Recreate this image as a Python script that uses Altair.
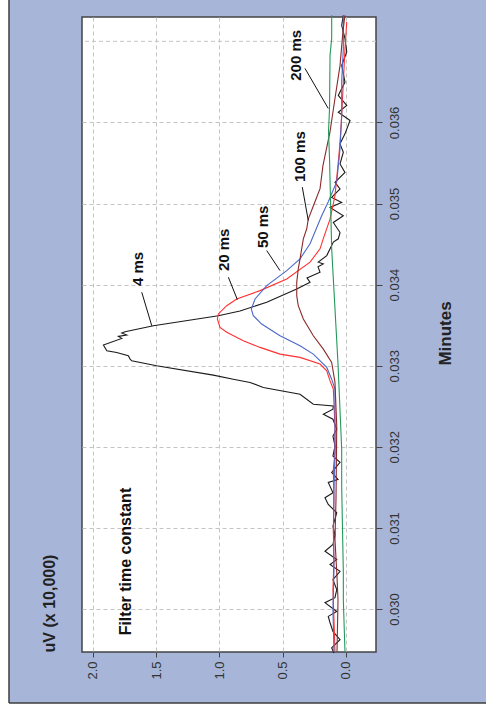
import altair as alt
import pandas as pd

# ---------------- data ----------------
# 4 ms (black)
t_4ms = [0.029456, 0.029522, 0.029621, 0.029723, 0.029831, 0.029909, 0.029970, 0.030078,
         0.030140, 0.030239, 0.030363, 0.030465, 0.030548, 0.030609, 0.030712, 0.030795,
         0.030918, 0.031021, 0.031187, 0.031289, 0.031372, 0.031434, 0.031561, 0.031598,
         0.031685, 0.031808, 0.031886, 0.032010, 0.032133, 0.032216, 0.032340, 0.032402,
         0.032464, 0.032504, 0.032525, 0.032649, 0.032732, 0.032794, 0.032834, 0.032884,
         0.032999, 0.033061, 0.033082, 0.033122, 0.033164, 0.033184, 0.033255, 0.033337,
         0.033362, 0.033378, 0.033403, 0.033419, 0.033493, 0.033617, 0.033675, 0.033782,
         0.033947, 0.034030, 0.034083, 0.034153, 0.034219, 0.034256, 0.034277, 0.034358,
         0.034524, 0.034565, 0.034643, 0.034766, 0.034849, 0.034952, 0.035014, 0.035075,
         0.035179, 0.035261, 0.035384, 0.035488, 0.035632, 0.035736, 0.035859, 0.036024,
         0.036126, 0.036209, 0.036333, 0.036497, 0.036703, 0.036868, 0.037033, 0.037198,
         0.037321]
v_4ms = [0.095, 0.113, 0.047, 0.103, 0.126, 0.140, 0.073, 0.166,
         0.087, 0.073, 0.103, 0.047, 0.126, 0.073, 0.166, 0.103,
         0.087, 0.103, 0.073, 0.140, 0.166, 0.103, 0.140, 0.063,
         0.113, 0.047, 0.103, 0.087, 0.103, 0.073, 0.103, 0.179,
         0.103, 0.100, 0.258, 0.363, 0.653, 0.758, 0.890, 1.048,
         1.496, 1.692, 1.705, 1.719, 1.811, 1.889, 1.916, 1.771,
         1.798, 1.732, 1.771, 1.745, 1.521, 1.008, 0.837, 0.626,
         0.389, 0.284, 0.308, 0.205, 0.221, 0.179, 0.219, 0.152,
         0.100, 0.061, 0.047, 0.100, 0.021, 0.126, 0.034, 0.113,
         0.047, 0.087, 0.008, 0.047, 0.021, 0.047, 0.008, -0.032,
         0.061, -0.006, 0.061, 0.008, 0.034, -0.006, 0.008, 0.034,
         0.021]

# 20 ms (red)
t_20ms = [0.029472, 0.029868, 0.030239, 0.030609, 0.030980, 0.031351, 0.031722, 0.031928,
          0.032257, 0.032711, 0.032813, 0.032937, 0.033020, 0.033103, 0.033143, 0.033226,
          0.033308, 0.033412, 0.033473, 0.033576, 0.033638, 0.033740, 0.033823, 0.033926,
          0.034070, 0.034277, 0.034441, 0.034565, 0.034808, 0.035096, 0.035508, 0.035755,
          0.036085, 0.036497, 0.036910, 0.037238]
v_20ms = [0.087, 0.095, 0.103, 0.095, 0.100, 0.095, 0.100, 0.087,
          0.087, 0.100, 0.126, 0.152, 0.205, 0.363, 0.521, 0.679,
          0.811, 0.942, 0.995, 1.016, 1.008, 0.942, 0.863, 0.679,
          0.468, 0.284, 0.205, 0.180, 0.126, 0.087, 0.061, 0.047,
          0.034, 0.021, 0.008, -0.006]

# 50 ms (blue)
t_50ms = [0.029472, 0.029991, 0.030486, 0.030980, 0.031475, 0.031928, 0.032711, 0.032834,
          0.032979, 0.033143, 0.033246, 0.033370, 0.033514, 0.033617, 0.033700, 0.033823,
          0.033988, 0.034173, 0.034318, 0.034503, 0.034849, 0.035022, 0.035269, 0.035677,
          0.036085, 0.036497, 0.036910, 0.037321]
v_50ms = [0.095, 0.103, 0.095, 0.099, 0.095, 0.087, 0.087, 0.113,
          0.152, 0.258, 0.363, 0.521, 0.666, 0.732, 0.748, 0.718,
          0.626, 0.468, 0.363, 0.284, 0.192, 0.140, 0.073, 0.047,
          0.034, 0.034, 0.021, 0.021]

# 100 ms (brown)
t_100ms = [0.029472, 0.030115, 0.030399, 0.030857, 0.031351, 0.032257, 0.032794, 0.033041,
           0.033205, 0.033370, 0.033576, 0.033740, 0.033864, 0.034030, 0.034194, 0.034318,
           0.034565, 0.034689, 0.034808, 0.035022, 0.035183, 0.035467, 0.035887, 0.036295,
           0.036703, 0.037123, 0.037321]
v_100ms = [0.071, 0.063, 0.071, 0.087, 0.079, 0.073, 0.087, 0.113,
           0.179, 0.258, 0.337, 0.377, 0.389, 0.389, 0.377, 0.363,
           0.337, 0.310, 0.298, 0.245, 0.205, 0.182, 0.126, 0.087,
           0.047, 0.024, 0.008]

# 200 ms (green)
t_200ms = [0.029472, 0.030115, 0.030449, 0.031512, 0.031969, 0.033020, 0.034441, 0.035022,
           0.035553, 0.035887, 0.036171, 0.036827, 0.037037, 0.037321]
v_200ms = [0.008, 0.021, 0.021, 0.034, 0.034, 0.063, 0.113, 0.122,
           0.130, 0.138, 0.130, 0.126, 0.113, 0.113]

series_names = ["4 ms", "20 ms", "50 ms", "100 ms", "200 ms"]
series_colors = ["#1a1a1a", "#ff3030", "#4a68c8", "#8b2a2a", "#22995a"]

# annotations
ann_text = ["4 ms", "20 ms", "50 ms", "100 ms", "200 ms", "Filter time constant"]
ann_uv = [1.642, 0.963, 0.655, 0.363, 0.395, 1.737]
ann_t = [0.034194, 0.034429, 0.034713, 0.035578, 0.036827, 0.030585]
ann_size = [15, 15, 15, 15, 15, 16]

lead_uv1 = [1.613, 0.929, 0.626, 0.345, 0.324]
lead_t1 = [0.033906, 0.034091, 0.034420, 0.035202, 0.036666]
lead_uv2 = [1.534, 0.858, 0.521, 0.298, 0.140]
lead_t2 = [0.033493, 0.033815, 0.034173, 0.034791, 0.036172]

uv_ticks = [0.0, 0.5, 1.0, 1.5, 2.0]
min_ticks = [0.030, 0.031, 0.032, 0.033, 0.034, 0.035, 0.036]
extra_grid = [0.037]

# ---------------- build tables ----------------
rows = []
for name, ts, vs in zip(series_names,
                        [t_4ms, t_20ms, t_50ms, t_100ms, t_200ms],
                        [v_4ms, v_20ms, v_50ms, v_100ms, v_200ms]):
    for i, (t, v) in enumerate(zip(ts, vs)):
        rows.append({"series": name, "t": t, "uv": v, "i": i})
df = pd.DataFrame(rows)
ann = pd.DataFrame({"label": ann_text, "uv": ann_uv, "t": ann_t, "size": ann_size})
lead = pd.DataFrame({"uv1": lead_uv1, "t1": lead_t1, "uv2": lead_uv2, "t2": lead_t2})
grid_df = pd.DataFrame({"t": extra_grid})

FONT = "Liberation Sans, Arial, sans-serif"
BLUE_BG = "#a7b6d8"
W, H = 294, 635

xscale = alt.Scale(domain=[-0.237, 2.085], reverse=True, nice=False, zero=False)
yscale = alt.Scale(domain=[0.02947, 0.03730], nice=False, zero=False)

xaxis = alt.Axis(values=uv_ticks, format=".1f", orient="bottom", labelAngle=270,
                 labelFont=FONT, labelFontSize=13, labelColor="#333333", labelPadding=4,
                 tickSize=5, tickColor="#444444", domain=False,
                 grid=True, gridColor="#c4c4c4", gridDash=[4, 3],
                 title="uV (x 10,000)", titleFont=FONT, titleFontSize=16, titleFontWeight="bold",
                 titleColor="#222222", titleAngle=270, titleX=-33, titleY=-49,
                 titleAlign="center", titleBaseline="middle")
yaxis = alt.Axis(values=min_ticks, format=".3f", orient="right", labelAngle=270,
                 labelAlign="center", labelBaseline="top",
                 labelFont=FONT, labelFontSize=13, labelColor="#333333", labelPadding=6,
                 tickSize=6, tickColor="#444444", domain=False,
                 grid=True, gridColor="#c4c4c4", gridDash=[4, 3],
                 title="Minutes", titleFont=FONT, titleFontSize=17, titleFontWeight="bold",
                 titleColor="#222222", titleAngle=270, titleX=69, titleY=316,
                 titleAlign="center", titleBaseline="middle")

base = alt.Chart(df)

lines = base.mark_line(strokeWidth=1.1).encode(
    x=alt.X("uv:Q", scale=xscale, axis=xaxis),
    y=alt.Y("t:Q", scale=yscale, axis=yaxis),
    color=alt.Color("series:N", scale=alt.Scale(domain=series_names, range=series_colors), legend=None),
    detail="series:N",
    order=alt.Order("i:Q"),
)

grid37 = alt.Chart(grid_df).mark_rule(color="#c4c4c4", strokeDash=[4, 3], strokeWidth=1).encode(
    y=alt.Y("t:Q", scale=yscale)
)

texts = alt.Chart(ann).mark_text(angle=270, font=FONT, fontWeight="bold",
                                 color="#111111", align="center", baseline="middle").encode(
    x=alt.X("uv:Q", scale=xscale),
    y=alt.Y("t:Q", scale=yscale),
    text="label:N",
    size=alt.Size("size:Q", scale=None, legend=None),
)

leaders = alt.Chart(lead).mark_rule(color="#111111", strokeWidth=1).encode(
    x=alt.X("uv1:Q", scale=xscale),
    x2="uv2:Q",
    y=alt.Y("t1:Q", scale=yscale),
    y2="t2:Q",
)

# decorative page frame: white margins and dark border lines
white_left = alt.Chart(grid_df).mark_rect(color="white", clip=False).encode(
    x=alt.value(-82), x2=alt.value(-73), y=alt.value(-17), y2=alt.value(H + 63))
white_bottom = alt.Chart(grid_df).mark_rect(color="white", clip=False).encode(
    x=alt.value(-82), x2=alt.value(W + 110), y=alt.value(H + 51), y2=alt.value(H + 63))
frame_left = alt.Chart(grid_df).mark_rule(color="#3c3c3c", strokeWidth=1.5, clip=False).encode(
    x=alt.value(-73), y=alt.value(-17), y2=alt.value(H + 51))
frame_bottom = alt.Chart(grid_df).mark_rule(color="#3c3c3c", strokeWidth=1.5, clip=False).encode(
    x=alt.value(-73), x2=alt.value(W + 110), y=alt.value(H + 51))

chart = alt.layer(
    white_left, white_bottom, frame_left, frame_bottom,
    grid37, lines, leaders, texts,
).properties(
    width=W, height=H,
    autosize=alt.AutoSizeParams(type="none"),
    padding={"left": 82, "top": 17, "right": 110, "bottom": 63},
    background=BLUE_BG,
).configure_view(
    fill="white", stroke="#444444", strokeWidth=1.5,
)

chart.save("out.html", embed_options={"renderer": "svg", "actions": False})
